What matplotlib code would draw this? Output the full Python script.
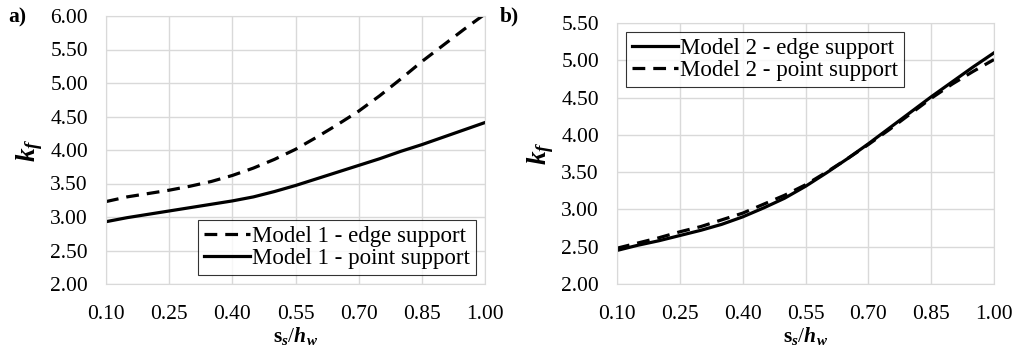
import numpy as np
import matplotlib.pyplot as plt
from matplotlib import font_manager

names = sorted({f.name for f in font_manager.fontManager.ttflist})
serif = [n for n in ['Liberation Serif', 'Nimbus Roman', 'Times New Roman', 'DejaVu Serif'] if n in names]
plt.rcParams['font.family'] = 'serif'
plt.rcParams['font.serif'] = serif
plt.rcParams['mathtext.fontset'] = 'custom'
plt.rcParams['mathtext.rm'] = serif[0]
plt.rcParams['mathtext.it'] = serif[0] + ':italic'
plt.rcParams['mathtext.bf'] = serif[0] + ':bold'
plt.rcParams['mathtext.bfit'] = serif[0] + ':bold:italic'

# s_s / h_w
ratio = [0.10, 0.15, 0.20, 0.25, 0.30, 0.35, 0.40, 0.45, 0.50, 0.55,
         0.60, 0.65, 0.70, 0.75, 0.80, 0.85, 0.90, 0.95, 1.00]

m1_edge = [3.23, 3.30, 3.35, 3.40, 3.46, 3.53, 3.62, 3.73, 3.86, 4.01,
           4.19, 4.38, 4.58, 4.81, 5.06, 5.32, 5.56, 5.80, 6.03]
m1_point = [2.93, 2.99, 3.04, 3.09, 3.14, 3.19, 3.24, 3.30, 3.38, 3.47,
            3.57, 3.67, 3.77, 3.87, 3.98, 4.08, 4.19, 4.30, 4.41]

m2_edge = [2.45, 2.52, 2.58, 2.65, 2.72, 2.80, 2.90, 3.02, 3.15, 3.31,
           3.49, 3.68, 3.88, 4.09, 4.30, 4.51, 4.71, 4.91, 5.10]
m2_point = [2.48, 2.55, 2.62, 2.70, 2.77, 2.86, 2.95, 3.07, 3.19, 3.33,
            3.50, 3.68, 3.87, 4.07, 4.28, 4.49, 4.68, 4.85, 5.01]

xticks = [0.10, 0.25, 0.40, 0.55, 0.70, 0.85, 1.00]

fs = 15.5
fig = plt.figure(figsize=(10.19, 3.52), dpi=100)
ax1 = fig.add_axes([106/1019, 1 - 284/352, 379/1019, 268/352])
ax2 = fig.add_axes([617/1019, 1 - 284/352, 377/1019, 261/352])


def style(ax, ymax):
    ax.set_xlim(0.10, 1.00)
    ax.set_ylim(2.0, ymax)
    ax.set_xticks(xticks)
    ax.set_yticks(np.arange(2.0, ymax + 0.01, 0.5))
    ax.xaxis.set_major_formatter(plt.FormatStrFormatter('%.2f'))
    ax.yaxis.set_major_formatter(plt.FormatStrFormatter('%.2f'))
    ax.grid(True, color='#d9d9d9', lw=1)
    ax.set_axisbelow(True)
    for s in ax.spines.values():
        s.set_color('#d9d9d9')
    ax.tick_params(length=0, labelsize=fs)
    ax.tick_params(axis='x', pad=15)
    ax.tick_params(axis='y', pad=13)
    ax.set_xlabel(r'$\mathbf{s}_{\mathbfit{s}}/\mathbfit{h}_{\mathbfit{w}}$',
                  fontsize=fs, labelpad=1)
    ax.set_ylabel(r'$\mathbfit{k}_{\mathbfit{f}}$', fontsize=fs + 4, labelpad=4)


style(ax1, 6.0)
style(ax2, 5.5)

ax1.plot(ratio, m1_edge, color='black', lw=2.3, ls=(0, (4, 2.5)),
         label='Model 1 - edge support')
ax1.plot(ratio, m1_point, color='black', lw=2.3, label='Model 1 - point support')
ax2.plot(ratio, m2_edge, color='black', lw=2.3, label='Model 2 - edge support')
ax2.plot(ratio, m2_point, color='black', lw=2.3, ls=(0, (4, 2.5)),
         label='Model 2 - point support')

for ax, loc in ((ax1, 'lower right'), (ax2, 'upper left')):
    leg = ax.legend(loc=loc, fontsize=fs + 1, frameon=True, fancybox=False,
                    handlelength=2.0, handletextpad=0.1, borderpad=0.25,
                    labelspacing=0.05, borderaxespad=0.4)
    leg.get_frame().set_edgecolor('black')
    leg.get_frame().set_linewidth(0.8)

fig.text(8/1019, 1 - 17/352, 'a)', fontsize=fs, fontweight='bold', va='center')
fig.text(500/1019, 1 - 16/352, 'b)', fontsize=fs, fontweight='bold', va='center')

fig.savefig('out.png', dpi=100)
